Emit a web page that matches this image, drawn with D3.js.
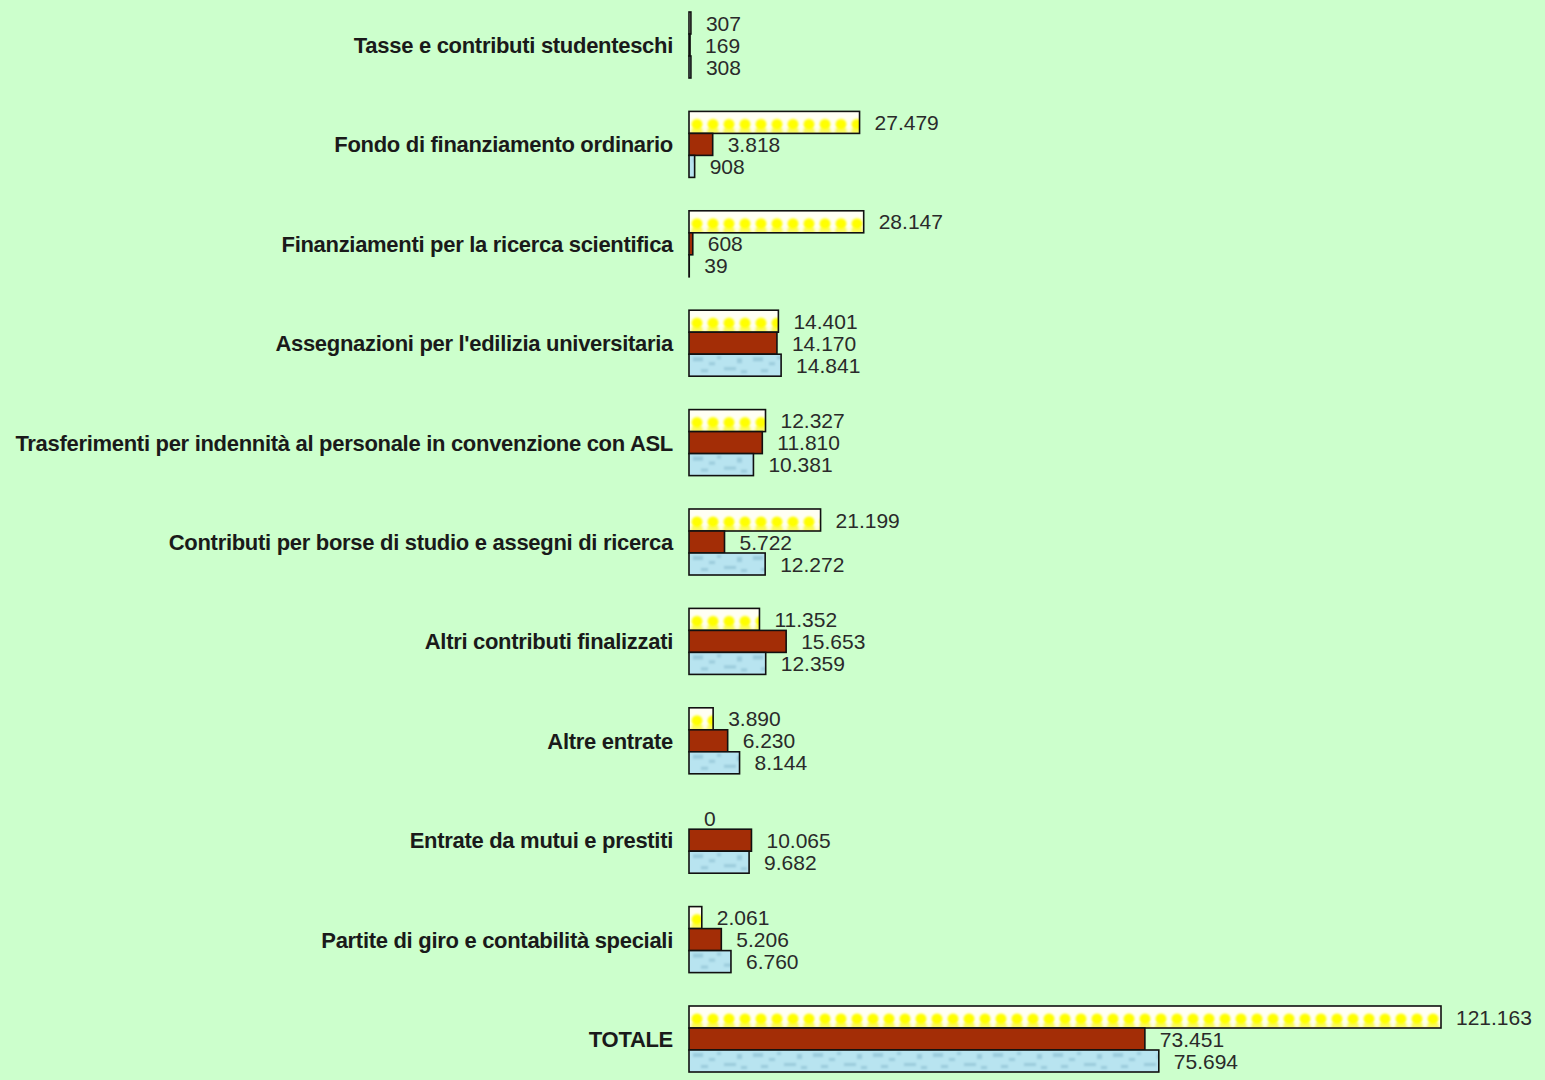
<!DOCTYPE html>
<html><head><meta charset="utf-8">
<script src="https://cdn.jsdelivr.net/npm/d3@7"></script>
<style>
html,body{margin:0;padding:0;background:#ccffcc;}
svg{display:block;}
</style></head>
<body>
<svg id="chart" width="1545" height="1080"></svg>
<script>
const categories = [
  "Tasse e contributi studenteschi",
  "Fondo di finanziamento ordinario",
  "Finanziamenti per la ricerca scientifica",
  "Assegnazioni per l'edilizia universitaria",
  "Trasferimenti per indennità al personale in convenzione con ASL",
  "Contributi per borse di studio e assegni di ricerca",
  "Altri contributi finalizzati",
  "Altre entrate",
  "Entrate da mutui e prestiti",
  "Partite di giro e contabilità speciali",
  "TOTALE"
];
const seriesNames = ["s1", "s2", "s3"];
const series1 = [307, 27479, 28147, 14401, 12327, 21199, 11352, 3890, 0, 2061, 121163];
const series2 = [169, 3818, 608, 14170, 11810, 5722, 15653, 6230, 10065, 5206, 73451];
const series3 = [308, 908, 39, 14841, 10381, 12272, 12359, 8144, 9682, 6760, 75694];
const seriesValues = [series1, series2, series3];

const svg = d3.select("#chart");
const W = 1545, H = 1080;
svg.append("rect").attr("width", W).attr("height", H).attr("fill", "#ccffcc");

const defs = svg.append("defs");
const blur = defs.append("filter").attr("id", "soft");
blur.append("feGaussianBlur").attr("stdDeviation", 1.2);
// yellow dotted pattern
const py = defs.append("pattern").attr("id", "pYellow").attr("patternUnits", "userSpaceOnUse")
  .attr("width", 16).attr("height", 22).attr("x", 689).attr("y", 0);
py.append("rect").attr("width", 16).attr("height", 22).attr("fill", "#fffff4");
const pyg = py.append("g").attr("filter", "url(#soft)");
pyg.append("rect").attr("x", -2).attr("y", 17).attr("width", 20).attr("height", 6).attr("fill", "#fafa60");
pyg.append("circle").attr("cx", 8).attr("cy", 13).attr("r", 5.5).attr("fill", "#ffff00");
pyg.append("circle").attr("cx", 0).attr("cy", 19).attr("r", 2.5).attr("fill", "#ffffe0");
pyg.append("circle").attr("cx", 16).attr("cy", 19).attr("r", 2.5).attr("fill", "#ffffe0");
// blue textured pattern
const pb = defs.append("pattern").attr("id", "pBlue").attr("patternUnits", "userSpaceOnUse")
  .attr("width", 60).attr("height", 22).attr("x", 689).attr("y", 0);
pb.append("rect").attr("width", 60).attr("height", 22).attr("fill", "#b8e4f0");
const pbg = pb.append("g").attr("filter", "url(#soft)");
[[4,3,10,4],[20,8,6,3],[35,13,12,3],[48,4,5,5],[12,15,7,3],[28,2,4,3],[52,16,6,3]].forEach(d => {
  pbg.append("rect").attr("x", d[0]).attr("y", d[1]).attr("width", d[2]).attr("height", d[3]).attr("fill", "#92c4d6").attr("opacity", 0.8);
});
const fills = ["url(#pYellow)", "#a32d06", "url(#pBlue)"];

const x0 = 689;
const x = d3.scaleLinear().domain([0, 121163]).range([x0, 1441]);
const y = d3.scaleBand().domain(categories).range([-4.7, 1088.7]).paddingInner(0.336).paddingOuter(0.168);
const ys = d3.scaleBand().domain(seriesNames).range([0, y.bandwidth()]).padding(0);

const g = svg.append("g");
categories.forEach((c, i) => {
  const gy = y(c);
  const grp = g.append("g").attr("transform", `translate(0,${gy})`);
  seriesNames.forEach((s, j) => {
    const v = seriesValues[j][i];
    grp.append("rect")
      .attr("x", x(0)).attr("y", ys(s))
      .attr("width", Math.max(0, x(v) - x(0))).attr("height", ys.bandwidth())
      .attr("fill", fills[j]).attr("stroke", "#111").attr("stroke-width", 1.6);
    grp.append("text")
      .attr("x", x(v) + 15).attr("y", ys(s) + ys.bandwidth() / 2)
      .attr("dy", "0.36em")
      .attr("font-family", "Liberation Sans, Arial, sans-serif")
      .attr("font-size", 21).attr("fill", "#2a2a2a")
      .text(d3.format(",")(v).replace(/,/g, "."));
  });
  svg.append("text")
    .attr("x", 673).attr("y", gy + y.bandwidth() / 2)
    .attr("dy", "0.36em").attr("text-anchor", "end")
    .attr("font-family", "Liberation Sans, Arial, sans-serif")
    .attr("font-weight", "bold").attr("font-size", 22).attr("fill", "#1a1a1a")
    .attr("letter-spacing", "-0.3")
    .text(c);
});
</script>
</body></html>
